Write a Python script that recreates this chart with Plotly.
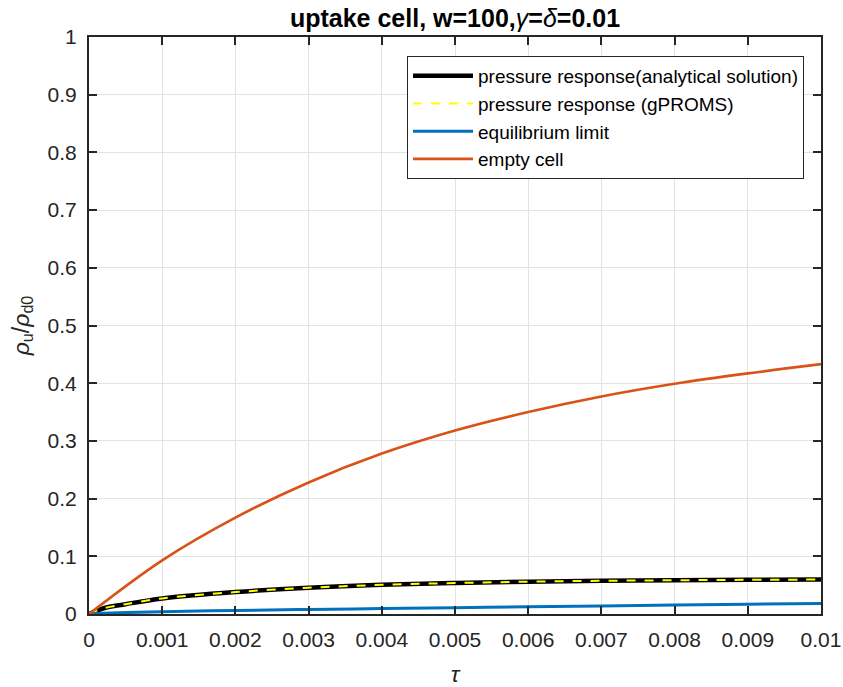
import plotly.graph_objects as go

# dimensionless time
tau_fine = [0, 0.0002, 0.0005, 0.001, 0.002, 0.003, 0.004, 0.005,
            0.006, 0.007, 0.008, 0.009, 0.01]
tau_ticks = [0, 0.001, 0.002, 0.003, 0.004, 0.005, 0.006, 0.007,
             0.008, 0.009, 0.01]

# pressure response, analytical solution
analytical = [0, 0.010, 0.017, 0.027, 0.038, 0.0455, 0.0505, 0.0537,
              0.0560, 0.0575, 0.0585, 0.0592, 0.0597]
# pressure response, gPROMS simulation
gproms = [0, 0.010, 0.017, 0.027, 0.038, 0.0455, 0.0505, 0.0537,
          0.0560, 0.0575, 0.0585, 0.0592, 0.0597]
# equilibrium limit
equilibrium = [0, 0.0012, 0.0025, 0.0040, 0.0062, 0.0079, 0.0094, 0.0109,
               0.0124, 0.0139, 0.0154, 0.0169, 0.0184]
# empty cell
empty_cell = [0, 0.093, 0.167, 0.228, 0.278, 0.318, 0.350, 0.377,
              0.399, 0.417, 0.433]

x_tick_text = ["0", "0.001", "0.002", "0.003", "0.004", "0.005", "0.006",
               "0.007", "0.008", "0.009", "0.01"]
y_tick_vals = [0, 0.1, 0.2, 0.3, 0.4, 0.5, 0.6, 0.7, 0.8, 0.9, 1]
y_tick_text = ["0", "0.1", "0.2", "0.3", "0.4", "0.5", "0.6", "0.7",
               "0.8", "0.9", "1"]

AX = "#262626"
SMOOTH = 1.0

fig = go.Figure()
fig.add_trace(go.Scatter(
    x=tau_fine, y=analytical, mode="lines",
    name="pressure response(analytical solution)",
    line=dict(color="black", width=4.5, shape="spline", smoothing=SMOOTH)))
fig.add_trace(go.Scatter(
    x=tau_fine, y=gproms, mode="lines",
    name="pressure response (gPROMS)",
    line=dict(color="#FFFF00", width=2, dash="dash", shape="spline",
              smoothing=SMOOTH)))
fig.add_trace(go.Scatter(
    x=tau_fine, y=equilibrium, mode="lines", name="equilibrium limit",
    line=dict(color="#0072BD", width=3, shape="spline", smoothing=SMOOTH)))
fig.add_trace(go.Scatter(
    x=tau_ticks, y=empty_cell, mode="lines", name="empty cell",
    line=dict(color="#D95319", width=2.7, shape="spline", smoothing=SMOOTH)))

axis_common = dict(
    showline=True, linecolor=AX, linewidth=2, mirror="ticks",
    ticks="inside", ticklen=8, tickwidth=2, tickcolor=AX,
    showgrid=True, gridcolor="#e3e3e3", gridwidth=1,
    zeroline=False,
    tickfont=dict(family="Arial", size=21, color=AX),
)

fig.update_layout(
    width=843, height=687,
    margin=dict(l=89, r=22, t=37, b=73, autoexpand=False),
    paper_bgcolor="white", plot_bgcolor="white",
    title=dict(
        text="<b>uptake cell, w=100,</b><i>γ</i><b>=</b><i>δ</i><b>=0.01</b>",
        x=(89 + 821) / 2 / 843, xanchor="center",
        y=1 - 18 / 687, yanchor="middle",
        font=dict(family="Arial", size=25, color="black")),
    xaxis=dict(range=[0, 0.01], tickvals=tau_ticks, ticktext=x_tick_text,
               ticklabelstandoff=6,
               title=dict(text="<i>τ</i>", standoff=18,
                          font=dict(family="Arial", size=23, color=AX)),
               **axis_common),
    yaxis=dict(range=[0, 1], tickvals=y_tick_vals, ticktext=y_tick_text,
               ticklabelstandoff=6,
               title=dict(text="<i>ρ</i><sub>u</sub>/<i>ρ</i><sub>d0</sub>",
                          standoff=12,
                          font=dict(family="Arial", size=23, color=AX)),
               **axis_common),
    legend=dict(
        x=(804 - 89) / 732, xanchor="right",
        y=(614 - 56) / 577, yanchor="top",
        bgcolor="white", bordercolor=AX, borderwidth=1,
        font=dict(family="Arial", size=19, color="black"),
        tracegroupgap=0, itemwidth=60,
        traceorder="normal"),
    showlegend=True,
)

fig.write_html("out.html")
